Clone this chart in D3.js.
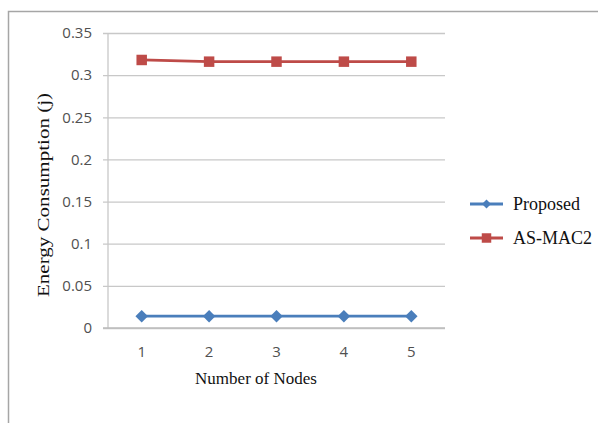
<!DOCTYPE html>
<html>
<head>
<meta charset="utf-8">
<script src="https://cdn.jsdelivr.net/npm/d3@7"></script>
<style>
  html, body { margin: 0; padding: 0; background: #fff; }
  svg { display: block; }
</style>
</head>
<body>
<svg id="chart" width="598" height="423"></svg>
<script>
// Node counts on the x axis
const nodes = ["1", "2", "3", "4", "5"];
// Energy consumption (j) per scheme
const proposed = [0.014, 0.014, 0.014, 0.014, 0.014];
const asMac2 = [0.318, 0.316, 0.316, 0.316, 0.316];
// Y tick values
const yTicks = [0, 0.05, 0.1, 0.15, 0.2, 0.25, 0.3, 0.35];

const svg = d3.select("#chart");
const W = 598, H = 423;
const plot = { left: 108, right: 445, top: 33, bottom: 328 };

// Outer chart frame (left and top edges visible)
svg.append("path")
  .attr("d", `M8.5,${H} L8.5,11.5 L${W},11.5`)
  .attr("fill", "none")
  .attr("stroke", "#a6a6a6")
  .attr("stroke-width", 1.5);

const x = d3.scaleBand().domain(nodes).range([plot.left, plot.right]);
const y = d3.scaleLinear().domain([0, 0.35]).range([plot.bottom, plot.top]);

const tickFont = "'Open Sans', 'Liberation Sans', sans-serif";
const serifFont = "'Liberation Serif', 'DejaVu Serif', serif";

// Horizontal gridlines with left tick stubs
const yAxis = d3.axisLeft(y)
  .tickValues(yTicks)
  .tickSize(-(plot.right - plot.left))
  .tickFormat(d => d3.format("")(+d.toFixed(2)));
const gy = svg.append("g").attr("transform", `translate(${plot.left},0)`).call(yAxis);
gy.select(".domain").remove();
gy.selectAll(".tick line")
  .attr("x1", -5)
  .attr("stroke", "#c8c8c8")
  .attr("stroke-width", 1.3);
gy.selectAll(".tick text")
  .attr("x", -16)
  .attr("fill", "#505050")
  .style("font-family", tickFont)
  .style("font-size", "15px");

// Vertical axis line
svg.append("line")
  .attr("x1", plot.left).attr("x2", plot.left)
  .attr("y1", plot.top).attr("y2", plot.bottom)
  .attr("stroke", "#c8c8c8").attr("stroke-width", 1.3);

// X axis
const xAxis = d3.axisBottom(x).tickSize(0).tickPadding(18);
const gx = svg.append("g").attr("transform", `translate(0,${plot.bottom})`).call(xAxis);
gx.select(".domain").remove();
gx.selectAll(".tick text")
  .attr("fill", "#505050")
  .style("font-family", tickFont)
  .style("font-size", "15px");
svg.append("line")
  .attr("x1", plot.left - 5).attr("x2", plot.right)
  .attr("y1", plot.bottom).attr("y2", plot.bottom)
  .attr("stroke", "#bdbdbd").attr("stroke-width", 1.5);

const cx = d => x(d) + x.bandwidth() / 2;

// Diamonds are squares turned by 45 degrees
const series = [
  { name: "Proposed", values: proposed, color: "#4a7ebb", size: 78, legendSize: 40, rot: 45 },
  { name: "AS-MAC2", values: asMac2, color: "#be4b48", size: 110, legendSize: 90, rot: 0 }
];

const line = d3.line().x((d, i) => cx(nodes[i])).y(d => y(d));

series.forEach(s => {
  svg.append("path")
    .datum(s.values)
    .attr("d", line)
    .attr("fill", "none")
    .attr("stroke", s.color)
    .attr("stroke-width", 2.8);
  svg.selectAll(null)
    .data(s.values)
    .enter().append("path")
    .attr("transform", (d, i) => `translate(${cx(nodes[i])},${y(d)}) rotate(${s.rot})`)
    .attr("d", d3.symbol().type(d3.symbolSquare).size(s.size))
    .attr("fill", s.color);
});

// Axis titles
svg.append("text")
  .attr("x", 256)
  .attr("y", 384)
  .attr("text-anchor", "middle")
  .style("font-family", serifFont)
  .style("font-size", "17px")
  .attr("fill", "#111")
  .text("Number of Nodes");

svg.append("text")
  .attr("transform", "translate(49,195) rotate(-90)")
  .attr("text-anchor", "middle")
  .attr("textLength", 204)
  .attr("lengthAdjust", "spacingAndGlyphs")
  .style("font-family", serifFont)
  .style("font-size", "17px")
  .attr("fill", "#111")
  .text("Energy Consumption (j)");

// Legend
const legend = svg.append("g").attr("transform", "translate(470,204)");
series.forEach((s, i) => {
  const g = legend.append("g").attr("transform", `translate(0,${i * 34})`);
  g.append("line")
    .attr("x1", 0).attr("x2", 33)
    .attr("stroke", s.color).attr("stroke-width", 2.8);
  g.append("path")
    .attr("transform", `translate(16.5,0) rotate(${s.rot})`)
    .attr("d", d3.symbol().type(d3.symbolSquare).size(s.legendSize))
    .attr("fill", s.color);
  g.append("text")
    .attr("x", 43)
    .attr("y", 0)
    .attr("dy", "0.35em")
    .style("font-family", serifFont)
    .style("font-size", "18px")
    .attr("fill", "#111")
    .text(s.name);
});
</script>
</body>
</html>
